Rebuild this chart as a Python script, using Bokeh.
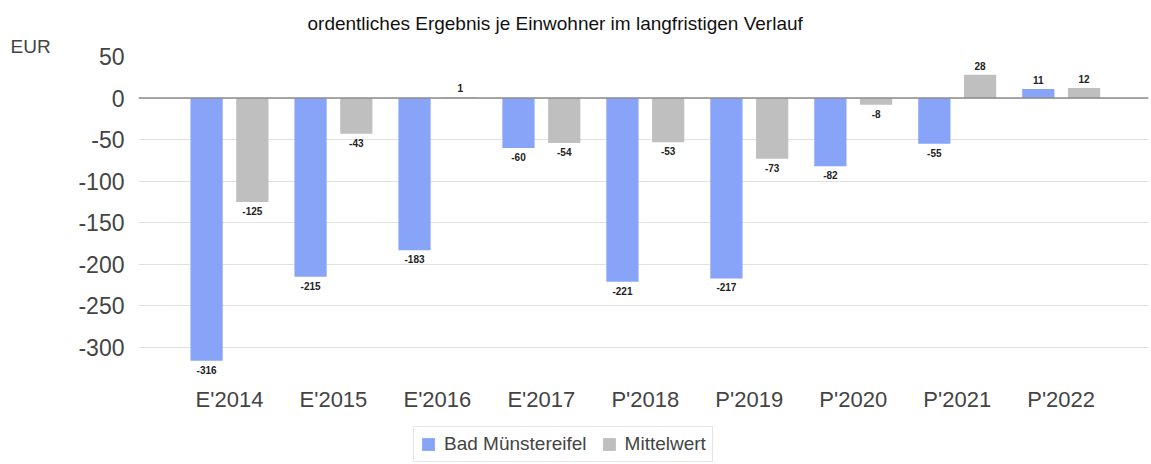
from bokeh.plotting import figure
from bokeh.layouts import column
from bokeh.models import ColumnDataSource, FixedTicker, Legend, LegendItem, Title, Span
from bokeh.core.properties import value
from bokeh.embed import file_html
from bokeh.resources import INLINE

categories = ["E'2014", "E'2015", "E'2016", "E'2017", "P'2018", "P'2019", "P'2020", "P'2021", "P'2022"]
bad_muenstereifel = [-316, -215, -183, -60, -221, -217, -82, -55, 11]
mittelwert = [-125, -43, 1, -54, -53, -73, -8, 28, 12]
y_ticks = [50, 0, -50, -100, -150, -200, -250, -300]
series_names = ["Bad Münstereifel", "Mittelwert"]

FONT = "Liberation Sans"
BLUE = "#88a4f8"
GRAY = "#bfbfbf"

xs = list(range(len(categories)))
off = 0.22
w = 0.31

FRAME_LEFT = 138
FRAME_TOP = 56
FRAME_BOTTOM = 378
MAIN_H = 424
LEG_H = 464 - MAIN_H

p = figure(width=1151, height=MAIN_H, output_backend="svg", toolbar_location=None,
           x_range=(-0.875, 8.84), y_range=(-337.3, 50), title=None,
           min_border_left=FRAME_LEFT, min_border_right=3, min_border_top=FRAME_TOP,
           min_border_bottom=MAIN_H - FRAME_BOTTOM)
p.outline_line_color = None
p.background_fill_color = "white"
p.border_fill_color = "white"

p.vbar(x=[i - off for i in xs], top=bad_muenstereifel, bottom=0, width=w,
       fill_color=BLUE, line_color=None)
p.vbar(x=[i + off for i in xs], top=mittelwert, bottom=0, width=w,
       fill_color=GRAY, line_color=None)

p.add_layout(Span(location=0, dimension="width", line_color="#8c8c8c", line_width=1.5))

for vals, shift in ((bad_muenstereifel, -off), (mittelwert, off)):
    neg = ColumnDataSource(dict(
        x=[i + shift for i, v in zip(xs, vals) if v < 0],
        y=[v for v in vals if v < 0],
        t=[str(v) for v in vals if v < 0]))
    pos = ColumnDataSource(dict(
        x=[i + shift for i, v in zip(xs, vals) if v >= 0],
        y=[v for v in vals if v >= 0],
        t=[str(v) for v in vals if v >= 0]))
    p.text(x="x", y="y", text="t", source=neg, text_align="center", text_baseline="top",
           y_offset=5, text_font=value(FONT), text_font_size="10px", text_font_style="bold",
           text_color="#222222")
    p.text(x="x", y="y", text="t", source=pos, text_align="center", text_baseline="bottom",
           y_offset=-5, text_font=value(FONT), text_font_size="10px", text_font_style="bold",
           text_color="#222222")

p.yaxis.ticker = FixedTicker(ticks=y_ticks)
p.yaxis.major_label_overrides = {t: str(t) for t in y_ticks}
p.yaxis.axis_line_color = None
p.yaxis.major_tick_line_color = None
p.yaxis.minor_tick_line_color = None
p.yaxis.major_label_text_font = FONT
p.yaxis.major_label_text_font_size = "23px"
p.yaxis.major_label_text_color = "#444444"
p.yaxis.major_label_standoff = 8

p.xaxis.ticker = FixedTicker(ticks=xs)
p.xaxis.major_label_overrides = {i: c for i, c in zip(xs, categories)}
p.xaxis.axis_line_color = None
p.xaxis.major_tick_line_color = None
p.xaxis.minor_tick_line_color = None
p.xaxis.major_label_text_font = FONT
p.xaxis.major_label_text_font_size = "22px"
p.xaxis.major_label_text_color = "#444444"
p.xaxis.major_label_standoff = 2

p.xgrid.grid_line_color = None
p.ygrid.grid_line_color = "#e0e0e0"
p.ygrid.ticker = FixedTicker(ticks=y_ticks)

p.add_layout(Title(text="EUR", align="left", offset=10 - FRAME_LEFT, standoff=0,
                   text_font=FONT, text_font_size="19px", text_font_style="normal",
                   text_color="#444444"), "above")
p.add_layout(Title(text="ordentliches Ergebnis je Einwohner im langfristigen Verlauf",
                   align="left", offset=307 - FRAME_LEFT, standoff=0,
                   text_font=FONT, text_font_size="19px", text_font_style="normal",
                   text_color="#111111"), "above")

# legend strip below the chart
lf = figure(width=1151, height=LEG_H, output_backend="svg", toolbar_location=None,
            x_range=(0, 1), y_range=(0, 1), title=None,
            x_axis_location=None, y_axis_location=None,
            min_border=0, min_border_left=0, min_border_right=0,
            min_border_top=0, min_border_bottom=0)
lf.outline_line_color = None
lf.xgrid.grid_line_color = None
lf.ygrid.grid_line_color = None
lf.background_fill_color = "white"
lf.border_fill_color = "white"
lr1 = lf.rect(x=[-5], y=[-5], width=1, height=1, fill_color=BLUE, line_color=None)
lr2 = lf.rect(x=[-5], y=[-5], width=1, height=1, fill_color=GRAY, line_color=None)
legend = Legend(items=[LegendItem(label=series_names[0], renderers=[lr1]),
                       LegendItem(label=series_names[1], renderers=[lr2])],
                orientation="horizontal", location=(413 - FRAME_LEFT, 2),
                label_text_font=FONT, label_text_font_size="19px", label_text_color="#444444",
                border_line_color="#cccccc", glyph_width=16, glyph_height=16,
                spacing=14, padding=6, margin=0, label_standoff=8,
                background_fill_alpha=1.0)
lf.add_layout(legend, "center")

layout = column(p, lf, spacing=0)
open("out.html", "w").write(file_html(layout, INLINE))
